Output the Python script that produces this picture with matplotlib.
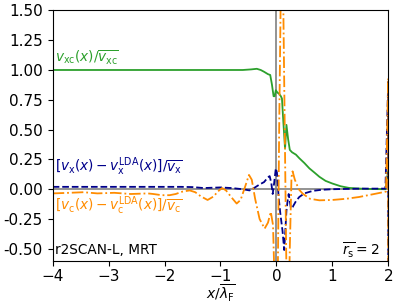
import matplotlib
matplotlib.use("Agg")
import matplotlib.pyplot as plt

# green: v_xc(x) / mean v_xc
x_xc = [-4.0, -3.0, -2.0, -1.0, -0.6, -0.45, -0.35, -0.28, -0.22, -0.15, -0.11, -0.08,
        -0.05, -0.03, -0.01, 0.02, 0.05, 0.08, 0.10, 0.12, 0.155, 0.18, 0.21, 0.24,
        0.28, 0.35, 0.41, 0.5, 0.59, 0.68, 0.77, 0.88, 1.0, 1.15, 1.3, 1.5, 1.7, 1.95, 2.0]
v_xc = [1.0, 1.0, 1.0, 1.0, 1.0, 1.005, 1.01, 1.0, 0.985, 0.965, 0.958, 0.88,
        0.78, 0.78, 0.83, 0.81, 0.80, 0.78, 0.76, 0.60, 0.34, 0.54, 0.42, 0.33,
        0.31, 0.29, 0.26, 0.22, 0.175, 0.14, 0.104, 0.07, 0.048, 0.025, 0.011, 0.005, 0.002, 0.0, 0.16]

# blue: exchange minus LDA exchange
x_x = [-4.0, -3.5, -3.0, -2.5, -2.0, -1.7, -1.5, -1.3, -1.0, -0.8, -0.6, -0.48, -0.4,
       -0.3, -0.22, -0.15, -0.12, -0.09, -0.066, -0.04, -0.01, 0.01, 0.04, 0.07, 0.11,
       0.14, 0.16, 0.18, 0.2, 0.22, 0.24, 0.26, 0.29, 0.35, 0.41, 0.5, 0.65, 0.8, 1.0,
       1.5, 1.95, 2.0, 2.0]
dv_x = [0.02, 0.02, 0.02, 0.02, 0.02, 0.02, 0.018, 0.01, 0.015, 0.01, 0.0, -0.01, 0.01,
        0.04, 0.06, 0.10, 0.11, 0.05, -0.04, 0.05, 0.175, 0.14, -0.065, -0.2, -0.35,
        -0.51, -0.35, -0.18, -0.10, -0.04, -0.10, -0.16, -0.15, -0.10, -0.065, -0.035, -0.014, -0.005, 0.0,
        0.005, 0.005, 0.9, -1.0]

# orange: correlation minus LDA correlation
x_c = [-4.0, -3.7, -3.45, -3.2, -2.9, -2.6, -2.3, -2.2, -2.05, -1.91, -1.8, -1.68, -1.55,
       -1.45, -1.35, -1.23, -1.12, -1.05, -0.97, -0.9, -0.8, -0.71, -0.64, -0.56, -0.49,
       -0.44, -0.38, -0.3, -0.21, -0.15, -0.1, -0.06,
       -0.02, 0.0, 0.05, 0.1, 0.15, 0.2, 0.24, 0.27, 0.29, 0.33, 0.4, 0.47, 0.6, 0.77,
       1.0, 1.25, 1.48, 1.75, 1.96, 2.0, 2.0]
dv_c = [-0.035, -0.03, -0.025, -0.035, -0.03, -0.04, -0.035, -0.04, -0.05, -0.05, -0.04, -0.02, -0.01,
        -0.025, -0.06, -0.09, -0.06, -0.02, 0.01, -0.01, -0.07, -0.12, -0.09, 0.02, 0.12,
        0.08, -0.08, -0.25, -0.33, -0.28, -0.19, -0.3,
        -1.0, -2.0, 0.5, 2.5, 0.5, -1.5, -0.5, 0.1, 0.15, 0.08, 0.0, -0.037, -0.08, -0.093,
        -0.09, -0.08, -0.065, -0.04, -0.02, 0.93, -1.0]

x_ticks = [-4, -3, -2, -1, 0, 1, 2]
y_ticks = [-0.5, -0.25, 0.0, 0.25, 0.5, 0.75, 1.0, 1.25, 1.5]

plt.rcParams['font.size'] = 11

fig = plt.figure(figsize=(3.99, 3.05), dpi=100)
ax = fig.add_axes([0.132, 0.145, 0.841, 0.821])

ax.axhline(0, color='gray', lw=1.2)
ax.axvline(0, color='gray', lw=1.2)
ax.plot(x_xc, v_xc, color='tab:green', lw=1.3)
ax.plot(x_x, dv_x, color='darkblue', ls='--', lw=1.3)
ax.plot(x_c, dv_c, color='darkorange', ls='-.', lw=1.3)

fs = 9.8
ax.text(-3.96, 1.10, r'$v_{\rm xc}(x)/\overline{v_{\rm xc}}$', color='tab:green',
        va='center', fontsize=fs)
ax.text(-3.96, 0.19, r'$[v_{\rm x}(x)-v_{\rm x}^{\rm LDA}(x)]/\overline{v_{\rm x}}$',
        color='darkblue', va='center', fontsize=fs)
ax.text(-3.96, -0.14, r'$[v_{\rm c}(x)-v_{\rm c}^{\rm LDA}(x)]/\overline{v_{\rm c}}$',
        color='darkorange', va='center', fontsize=fs)
ax.text(-3.96, -0.51, 'r2SCAN-L, MRT', va='center', fontsize=fs)
ax.text(1.85, -0.51, r'$\overline{r_{\rm s}}=2$', ha='right', va='center', fontsize=10)

ax.set_xlim(-4, 2)
ax.set_ylim(-0.6, 1.5)
ax.set_xticks(x_ticks)
ax.set_yticks(y_ticks)
ax.set_yticklabels(['%.2f' % v for v in y_ticks])
ax.tick_params(axis='x', pad=2.5)
ax.set_xlabel(r'$x/\overline{\lambda_{\rm F}}$', labelpad=-1, fontsize=10)

fig.savefig('out.png', dpi=100)
